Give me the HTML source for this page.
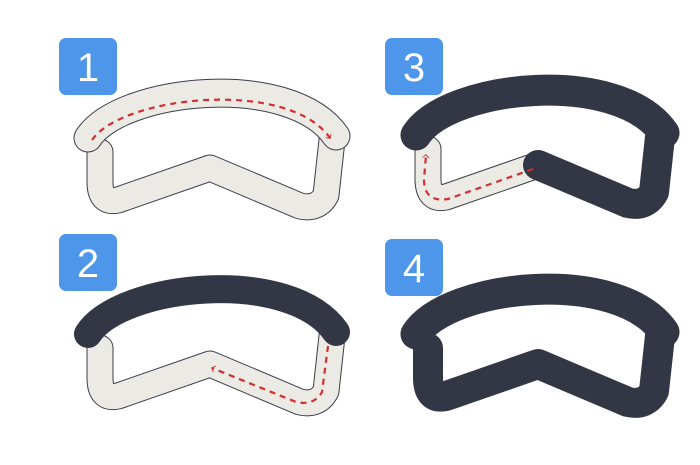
<!DOCTYPE html>
<html><head><meta charset="utf-8"><style>
body{margin:0;background:#fff}
svg{display:block}
.badge-text{font-family:"Liberation Sans",sans-serif;font-size:40px;fill:#fff;text-anchor:middle}
</style></head><body>
<svg width="700" height="465" viewBox="0 0 700 465">
<defs>
<marker id="arr" viewBox="0 0 10 10" refX="7" refY="5" markerWidth="4" markerHeight="4" orient="auto" markerUnits="userSpaceOnUse" style="overflow:visible">
<path d="M0,-3 L8,5 L0,13" fill="none" stroke="#d0302f" stroke-width="2.2"/>
</marker>
<path id="lowerFull" d="M332 140 L326 195 Q318 210 300 206 L210 168 L118 200 Q100 204 100 182 L100 152"/>
<path id="upper" d="M88 138 C120 88 290 70 336 136"/>
<path id="lowerRight" d="M332 140 L326 195 Q318 210 300 206 L210 168"/>
<path id="lowerLeft" d="M210 168 L118 200 Q100 204 100 182 L100 152"/>
</defs>

<g>
<rect x="59" y="38" width="58" height="57" rx="7" fill="#4d96ea"/>
<text x="88" y="81" class="badge-text">1</text>
<use href="#lowerFull" fill="none" stroke="#3a3d48" stroke-width="27" stroke-linejoin="round" stroke-linecap="round"/>
<use href="#lowerFull" fill="none" stroke="#ebeae5" stroke-width="25" stroke-linejoin="round" stroke-linecap="round"/>
<use href="#upper" fill="none" stroke="#3a3d48" stroke-width="29" stroke-linecap="round"/>
<use href="#upper" fill="none" stroke="#ebeae5" stroke-width="27" stroke-linecap="round"/>
<path d="M92 140 C122 96 288 78 330 138" fill="none" stroke="#d0302f" stroke-width="2.2" stroke-dasharray="6 5" marker-end="url(#arr)"/>
</g>

<g transform="translate(0,196)">
<rect x="59" y="38" width="58" height="57" rx="7" fill="#4d96ea"/>
<text x="88" y="81" class="badge-text">2</text>
<use href="#lowerFull" fill="none" stroke="#3a3d48" stroke-width="27" stroke-linejoin="round" stroke-linecap="round"/>
<use href="#lowerFull" fill="none" stroke="#ebeae5" stroke-width="25" stroke-linejoin="round" stroke-linecap="round"/>
<use href="#upper" fill="none" stroke="#333745" stroke-width="28" stroke-linecap="round"/>
<path d="M328 150 L322 196 Q314 210 296 206 L212 172" fill="none" stroke="#d0302f" stroke-width="2.2" stroke-dasharray="6 5" marker-end="url(#arr)"/>
</g>

<g transform="translate(328,-3)">
<rect x="57" y="41" width="58" height="57" rx="7" fill="#4d96ea"/>
<text x="86" y="84" class="badge-text">3</text>
<use href="#lowerLeft" fill="none" stroke="#3a3d48" stroke-width="27" stroke-linejoin="round" stroke-linecap="round"/>
<use href="#lowerLeft" fill="none" stroke="#ebeae5" stroke-width="25" stroke-linejoin="round" stroke-linecap="round"/>
<use href="#lowerRight" fill="none" stroke="#333745" stroke-width="30" stroke-linejoin="round" stroke-linecap="round"/>
<use href="#upper" fill="none" stroke="#333745" stroke-width="31" stroke-linecap="round"/>
<path d="M205 172 L120 202 Q96 206 96 182 L98 158" fill="none" stroke="#d0302f" stroke-width="2.2" stroke-dasharray="6 5" marker-end="url(#arr)"/>
</g>

<g transform="translate(328,196)">
<rect x="57" y="43" width="58" height="57" rx="7" fill="#4d96ea"/>
<text x="86" y="86" class="badge-text">4</text>
<use href="#lowerFull" fill="none" stroke="#333745" stroke-width="30" stroke-linejoin="round" stroke-linecap="round"/>
<use href="#upper" fill="none" stroke="#333745" stroke-width="31" stroke-linecap="round"/>
</g>
</svg>
</body></html>
